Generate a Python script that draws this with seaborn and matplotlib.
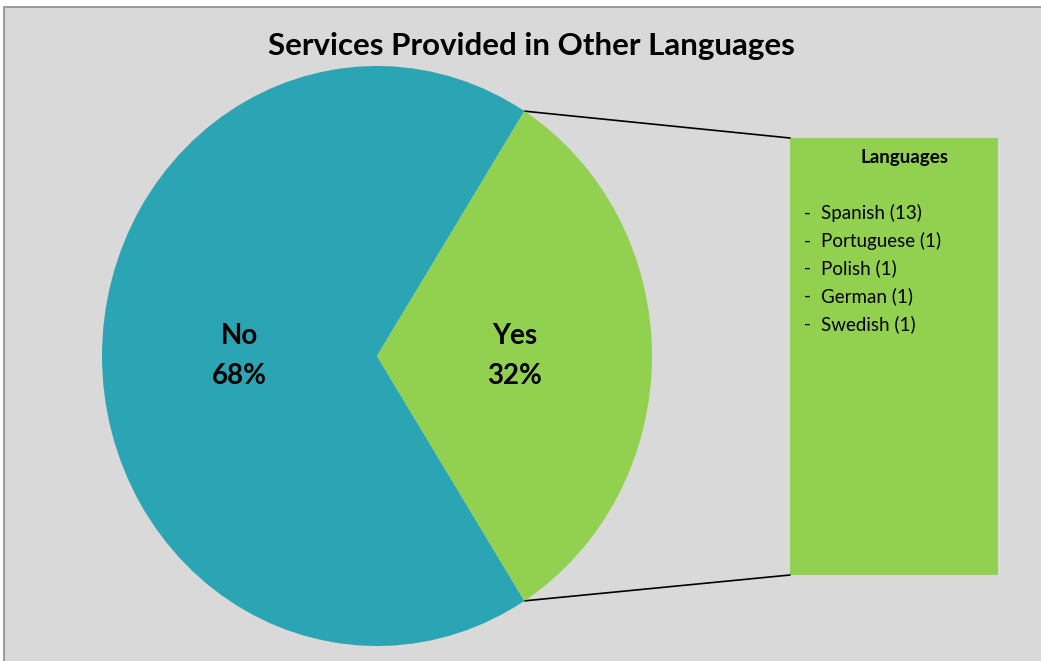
import numpy as np
import matplotlib
matplotlib.use("Agg")
import matplotlib.pyplot as plt
import seaborn as sns
from matplotlib.patches import Rectangle

# dados
categorias = ["No", "Yes"]
percentuais = [68, 32]
idiomas = ["Spanish", "Portuguese", "Polish", "German", "Swedish"]
contagens = [13, 1, 1, 1, 1]
titulo = "Services Provided in Other Languages"

sns.set_style("white")
plt.rcParams["font.family"] = ["Lato", "DejaVu Sans"]
plt.rcParams["text.color"] = "black"

cores = ["#2ba5b3", "#92d050"]
fundo = "#d9d9d9"

fig = plt.figure(figsize=(10.41, 6.61), dpi=100, facecolor="white")

# camada de fundo em coordenadas de pixel
bg = fig.add_axes([0, 0, 1, 1])
bg.set_xlim(0, 1041)
bg.set_ylim(661, 0)
bg.axis("off")
bg.add_patch(Rectangle((4, 7), 1050, 670, facecolor=fundo, edgecolor="#8c8c8c", lw=1.2))

# pizza (levemente eliptica, como no original)
ax = fig.add_axes([102 / 1041, 15 / 661, 550 / 1041, 580 / 661])
ax.set_zorder(2)
meia = percentuais[1] / 100 * 360 / 2
rotulos = iter([f"{c}\n{p}%" for c, p in zip(categorias, percentuais)])
wedges, textos, autos = ax.pie(percentuais, colors=cores, startangle=meia,
                               counterclock=True, pctdistance=0.5,
                               autopct=lambda p: next(rotulos),
                               wedgeprops=dict(linewidth=0))
for t in autos:
    t.set_fontsize(20)
    t.set_fontweight("bold")
    t.set_linespacing(1.65)
    t.set_color("black")
ax.set_aspect("auto")
ax.set_xlim(-1, 1)
ax.set_ylim(-1, 1)
ax.axis("off")

fig.text(531 / 1041, 1 - 46 / 661, titulo, fontsize=22.5, fontweight="bold",
         ha="center", va="center", color="black")

# caixa com a lista de idiomas
bx0, by0, bx1, by1 = 790, 138, 998, 575
bg.add_patch(Rectangle((bx0, by0), bx1 - bx0, by1 - by0, facecolor=cores[1], edgecolor="none"))
bg.text(905, 158, "Languages", fontsize=13.5, fontweight="bold", ha="center", va="center")
for i, (nome, n) in enumerate(zip(idiomas, contagens)):
    y = 213 + i * 27.8
    bg.text(804, y, "-", fontsize=13.5, ha="left", va="center")
    bg.text(821, y, f"{nome} ({n})", fontsize=13.5, ha="left", va="center")

# linhas de ligacao a partir das bordas da fatia "Yes"
fig.canvas.draw()
w = wedges[1]
to_bg = bg.transData.inverted()
for ang, ycaixa in [(w.theta2, by0), (w.theta1, by1)]:
    px = ax.transData.transform((np.cos(np.radians(ang)), np.sin(np.radians(ang))))
    x0, y0 = to_bg.transform(px)
    bg.plot([x0, bx0], [y0, ycaixa], color="black", lw=1.2)

fig.savefig("out.png", dpi=100, facecolor="white")
